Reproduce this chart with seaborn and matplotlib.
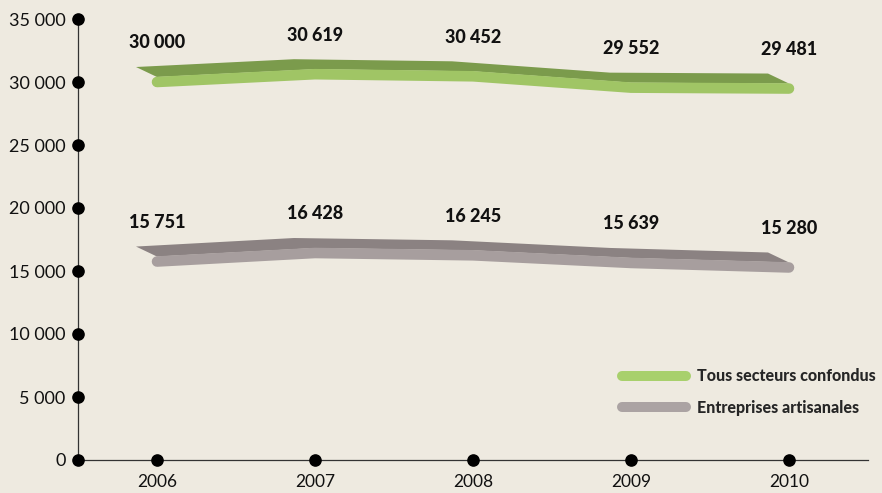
import numpy as np
import pandas as pd
import seaborn as sns
import matplotlib.pyplot as plt
from matplotlib.patches import Polygon

# --- data ---
years = ["2006", "2007", "2008", "2009", "2010"]
tous_secteurs = [30000, 30619, 30452, 29552, 29481]
artisanales = [15751, 16428, 16245, 15639, 15280]
y_ticks = [0, 5000, 10000, 15000, 20000, 25000, 30000, 35000]
series_names = ["Tous secteurs confondus", "Entreprises artisanales"]

bg = "#EEEAE0"
front_cols = ["#A0C565", "#A79E9E"]
top_cols = ["#7B9B4C", "#8B8282"]
legend_cols = ["#A8D06C", "#ABA3A3"]

sns.set_theme(style="white")
plt.rcParams["font.family"] = ["Lato", "DejaVu Sans"]

df = pd.DataFrame({
    "year": years * 2,
    "value": tous_secteurs + artisanales,
    "serie": [series_names[0]] * 5 + [series_names[1]] * 5,
})

fig = plt.figure(figsize=(8.82, 4.93), dpi=100, facecolor=bg)
ax = fig.add_axes([78 / 882, 33 / 493, 790 / 882, 441 / 493])
ax.set_facecolor(bg)
ax.set_xlim(-0.5, 4.5)
ax.set_ylim(0, 35000)

# 3D ribbon: top face as a slanted strip behind the front face
half = 5      # px, half thickness of front face
dx, dy = -21, 10  # px, depth of the top face
for vals, tc in zip([tous_secteurs, artisanales], top_cols):
    pts = ax.transData.transform(np.column_stack([np.arange(len(vals)), vals]))
    front_top = pts + [0, half]
    back = front_top + [dx, dy]
    poly_px = np.vstack([front_top, back[::-1]])
    poly = ax.transData.inverted().transform(poly_px)
    ax.add_patch(Polygon(poly, closed=True, facecolor=tc, edgecolor="none", zorder=2))

sns.lineplot(data=df, x="year", y="value", hue="serie", palette=front_cols,
             linewidth=7.6, ax=ax, zorder=3, legend=True,
             solid_capstyle="round", sort=False)

# value labels
for vals in [tous_secteurs, artisanales]:
    for i, v in enumerate(vals):
        ax.annotate(f"{v:,}".replace(",", " "), (i, v), xytext=(0, 22),
                    textcoords="offset points", ha="center", va="bottom",
                    fontsize=13, fontweight="black", color="#111111")

# axes, ticks with round markers
sns.despine(ax=ax)
for s in ["left", "bottom"]:
    ax.spines[s].set_color("#333333")
    ax.spines[s].set_linewidth(0.9)
ax.set_yticks(y_ticks)
ax.set_yticklabels([f"{t:,}".replace(",", " ") for t in y_ticks])
ax.set_xticks(range(len(years)))
ax.set_xticklabels(years)
ax.tick_params(axis="y", length=0, pad=9, labelsize=13, labelcolor="#111111")
ax.tick_params(axis="x", length=0, pad=10, labelsize=12.5, labelcolor="#111111")
ax.scatter([-0.5] * len(y_ticks), y_ticks, s=65, color="black", clip_on=False, zorder=5)
ax.scatter(range(len(years)), [0] * len(years), s=65, color="black", clip_on=False, zorder=5)
ax.set_xlabel("")
ax.set_ylabel("")
ax.grid(False)

leg = ax.legend(loc="upper right", bbox_to_anchor=(1.0, 1 - 362 / 493),
                bbox_transform=fig.transFigure, frameon=False,
                prop={"weight": "black", "size": 11.5}, handlelength=4.0,
                labelspacing=0.95, handletextpad=0.7, borderaxespad=0)
for h, c in zip(leg.get_lines(), legend_cols):
    h.set_linewidth(7.2)
    h.set_color(c)
    h.set_solid_capstyle("round")

fig.savefig("out.png", dpi=100, facecolor=bg)
